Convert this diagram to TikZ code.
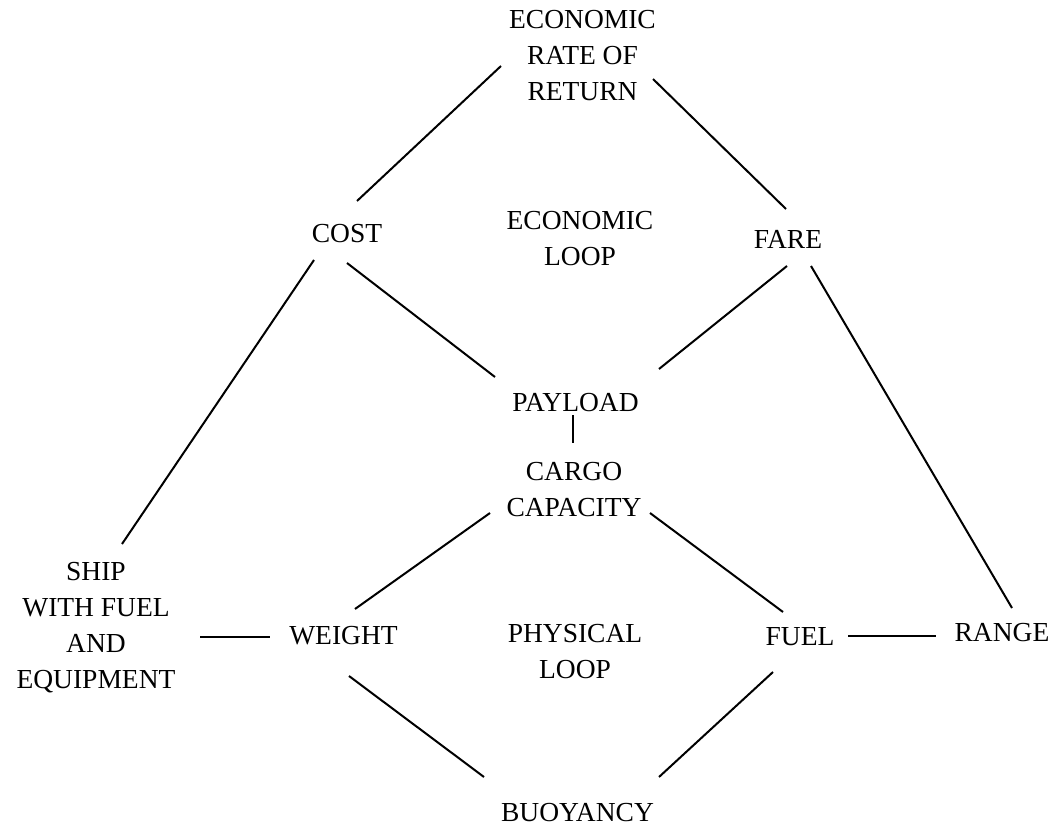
\documentclass[tikz,border=0pt]{standalone}
\usepackage{fontspec}
\setmainfont{Liberation Serif}
\usetikzlibrary{calc}
\begin{document}
\begin{tikzpicture}[x=1pt,y=-1pt,
  lbl/.style={inner sep=0pt,align=center,font=\fontsize{27.5}{36}\selectfont},
  link/.style={line width=2pt}]
\useasboundingbox (0,0) rectangle (1057,826);
% labels
\node[lbl] (err)     at (582.5,56)  {ECONOMIC\\RATE OF\\RETURN};
\node[lbl] (cost)    at (347,234)   {COST};
\node[lbl] (eloop)   at (580,239)   {ECONOMIC\\LOOP};
\node[lbl] (fare)    at (788,239)   {FARE};
\node[lbl] (payload) at (575.5,402.5) {PAYLOAD};
\node[lbl] (cargo)   at (574,489.5) {CARGO\\CAPACITY};
\node[lbl] (ship)    at (96,627.5)  {SHIP\\WITH FUEL\\AND\\EQUIPMENT};
\node[lbl] (weight)  at (343.5,636) {WEIGHT};
\node[lbl] (ploop)   at (575,652)   {PHYSICAL\\LOOP};
\node[lbl] (fuel)    at (800,637)   {FUEL};
\node[lbl] (range)   at (1002,633)  {RANGE};
\node[lbl] (buoy)    at (577.5,812.5) {BUOYANCY};
% economic loop
\draw[link] ($(err)+(-81.5,10)$) -- ($(cost)+(10,-33)$);
\draw[link] ($(err)+(70.5,23)$) -- ($(fare)+(-2,-30)$);
\draw[link] ($(cost)+(0,29)$) -- ($(payload)+(-80.5,-25.5)$);
\draw[link] ($(fare)+(-1,27)$) -- ($(payload)+(83.5,-33.5)$);
\draw[link] ($(cost)+(-33,26)$) -- ($(ship)+(26,-83.5)$);
\draw[link] ($(fare)+(23,27)$) -- ($(range)+(10,-25)$);
\draw[link] ($(payload)+(-2.5,12.5)$) -- ($(cargo)+(-1,-46.5)$);
% physical loop
\draw[link] ($(cargo)+(-84,23.5)$) -- ($(weight)+(11.5,-27)$);
\draw[link] ($(cargo)+(76,23.5)$) -- ($(fuel)+(-17,-25)$);
\draw[link] ($(ship)+(104,9.5)$) -- ($(weight)+(-73.5,1)$);
\draw[link] ($(fuel)+(48,-1)$) -- ($(range)+(-66,3)$);
\draw[link] ($(weight)+(5.5,40)$) -- ($(buoy)+(-93.5,-35.5)$);
\draw[link] ($(fuel)+(-27,35)$) -- ($(buoy)+(81.5,-35.5)$);
\end{tikzpicture}
\end{document}
